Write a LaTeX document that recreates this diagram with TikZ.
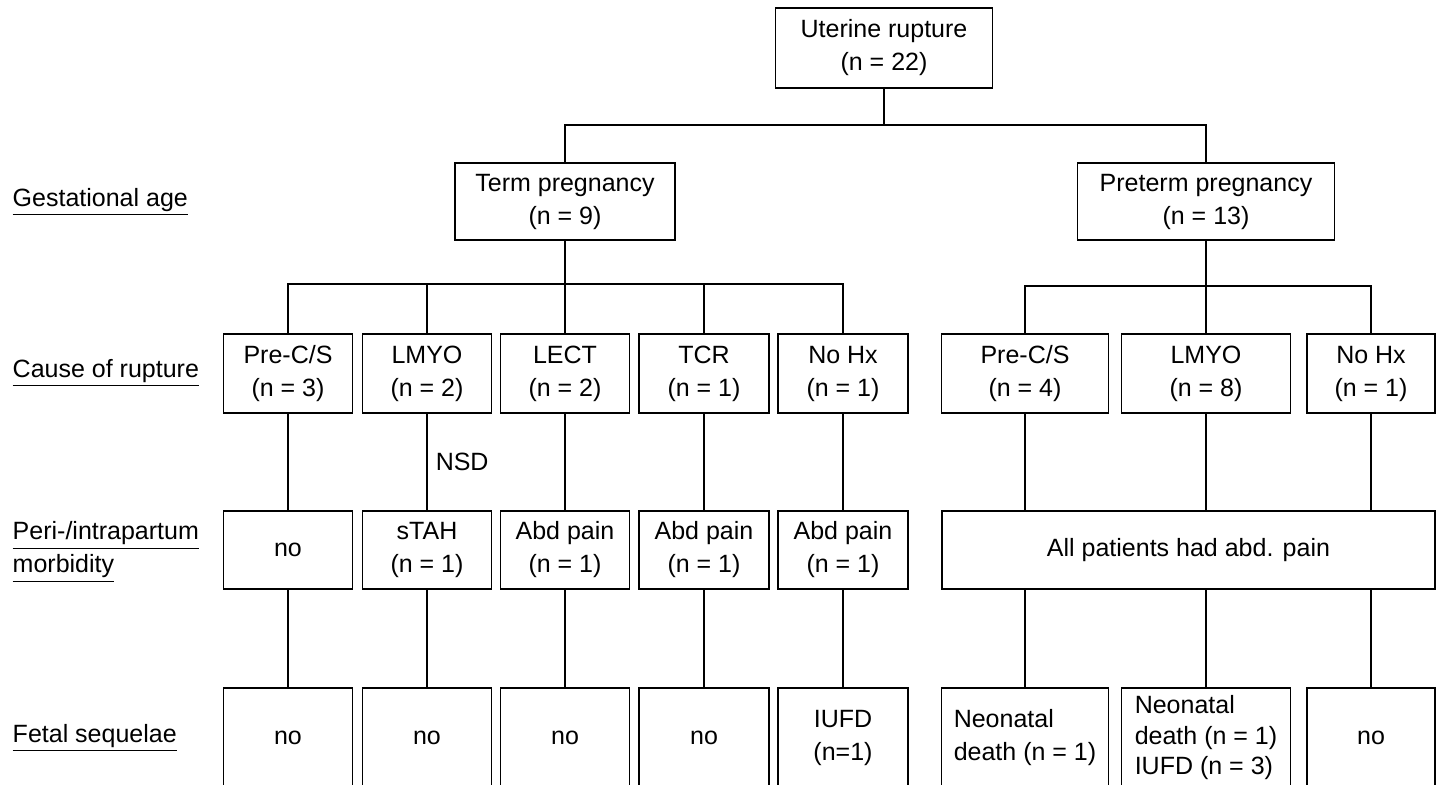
\documentclass[tikz,border=0pt]{standalone}
\usepackage{fontspec}
\setmainfont{Liberation Sans}
\tikzset{box/.style={draw, line width=.75pt, align=center, inner sep=1pt, minimum height=39.5pt}}
\tikzset{rowtitle/.style={anchor=west, align=left, inner sep=0pt}}

\begin{document}
\begin{tikzpicture}[x=.5pt, y=-.5pt, line width=.75pt, font=\fontsize{12.5pt}{16.5pt}\selectfont]
  \useasboundingbox (0, 0) rectangle (1436, 784);
  \clip (0, 0) rectangle (1436, 784);
  % row titles
  \node[rowtitle] (tage) at (12, 202) {\underline{Gestational age}};
  \node[rowtitle] (tcause) at (12, 373) {\underline{Cause of rupture}};
  \node[rowtitle] (tmorb) at (12, 552) {\underline{Peri-/intrapartum}\\\underline{morbidity}};
  \node[rowtitle] (tfetal) at (12, 738) {\underline{Fetal sequelae}};
  % top levels
  \node[box, minimum width=108.5pt, minimum height=40pt] (root) at (884, 48) {Uterine rupture\\(n = 22)};
  \node[box, minimum width=110pt, minimum height=38.5pt] (term) at (565, 201.5) {Term pregnancy\\(n = 9)};
  \node[box, minimum width=128.5pt, minimum height=38.5pt] (preterm) at (1206, 201.5) {Preterm pregnancy\\(n = 13)};
  % causes
  \node[box, minimum width=64.5pt] (c1) at (288, 373.5) {Pre-C/S\\(n = 3)};
  \node[box, minimum width=64.5pt] (c2) at (427, 373.5) {LMYO\\(n = 2)};
  \node[box, minimum width=64.5pt] (c3) at (565, 373.5) {LECT\\(n = 2)};
  \node[box, minimum width=65pt] (c4) at (704, 373.5) {TCR\\(n = 1)};
  \node[box, minimum width=65pt] (c5) at (843, 373.5) {No Hx\\(n = 1)};
  \node[box, minimum width=83.5pt] (c6) at (1025, 373.5) {Pre-C/S\\(n = 4)};
  \node[box, minimum width=84.5pt] (c7) at (1206, 373.5) {LMYO\\(n = 8)};
  \node[box, minimum width=64pt] (c8) at (1371, 373.5) {No Hx\\(n = 1)};
  % morbidity
  \node[box, minimum width=64.5pt, minimum height=39pt] (m1) at (288, 550) {no};
  \node[box, minimum width=64.5pt, minimum height=39pt] (m2) at (427, 550) {sTAH\\(n = 1)};
  \node[box, minimum width=64.5pt, minimum height=39pt] (m3) at (565, 550) {Abd pain\\(n = 1)};
  \node[box, minimum width=65pt, minimum height=39pt] (m4) at (704, 550) {Abd pain\\(n = 1)};
  \node[box, minimum width=65pt, minimum height=39pt] (m5) at (843, 550) {Abd pain\\(n = 1)};
  \node[box, minimum width=246.5pt, minimum height=39pt] (m6) at (1188.5, 550) {All patients had abd. pain};
  % fetal sequelae
  \node[box, minimum width=64.5pt, minimum height=50pt] (f1) at (288, 738) {no};
  \node[box, minimum width=64.5pt, minimum height=50pt] (f2) at (427, 738) {no};
  \node[box, minimum width=64.5pt, minimum height=50pt] (f3) at (565, 738) {no};
  \node[box, minimum width=65pt, minimum height=50pt] (f4) at (704, 738) {no};
  \node[box, minimum width=65pt, minimum height=50pt] (f5) at (843, 738) {IUFD\\(n=1)};
  \node[box, minimum width=83.5pt, minimum height=50pt, align=left] (f6) at (1025, 738) {Neonatal\\death (n = 1)};
  \node[box, minimum width=84.5pt, minimum height=50pt, align=left, font=\fontsize{12.5pt}{15.25pt}\selectfont] (f7) at (1206, 738) {Neonatal\\death (n = 1)\\IUFD (n = 3)};
  \node[box, minimum width=64pt, minimum height=50pt] (f8) at (1371, 738) {no};
  % lines
  \coordinate (split) at (884, 125);
  \coordinate (tsplit) at (565, 284);
  \coordinate (psplit) at (1206, 286);
  \draw (root) -- (split);
  \draw (term.north) |- (split) -| (preterm.north);
  \draw (term) -- (c3);
  \draw (c1.north) |- (tsplit) -| (c5.north);
  \draw (c2.north) -- (c2.north |- tsplit);
  \draw (c4.north) -- (c4.north |- tsplit);
  \draw (preterm) -- (c7);
  \draw (c6.north) |- (psplit) -| (c8.north);
  \draw (c1) -- (m1);
  \draw (c2) -- node[midway, anchor=west, inner sep=4pt] (nsd) {NSD} (m2);
  \draw (c3) -- (m3);
  \draw (c4) -- (m4);
  \draw (c5) -- (m5);
  \draw (c6) -- (c6 |- m6.north);
  \draw (c7) -- (c7 |- m6.north);
  \draw (c8) -- (c8 |- m6.north);
  \draw (m1) -- (f1);
  \draw (m2) -- (f2);
  \draw (m3) -- (f3);
  \draw (m4) -- (f4);
  \draw (m5) -- (f5);
  \draw (f6 |- m6.south) -- (f6);
  \draw (f7 |- m6.south) -- (f7);
  \draw (f8 |- m6.south) -- (f8);
\end{tikzpicture}
\end{document}
